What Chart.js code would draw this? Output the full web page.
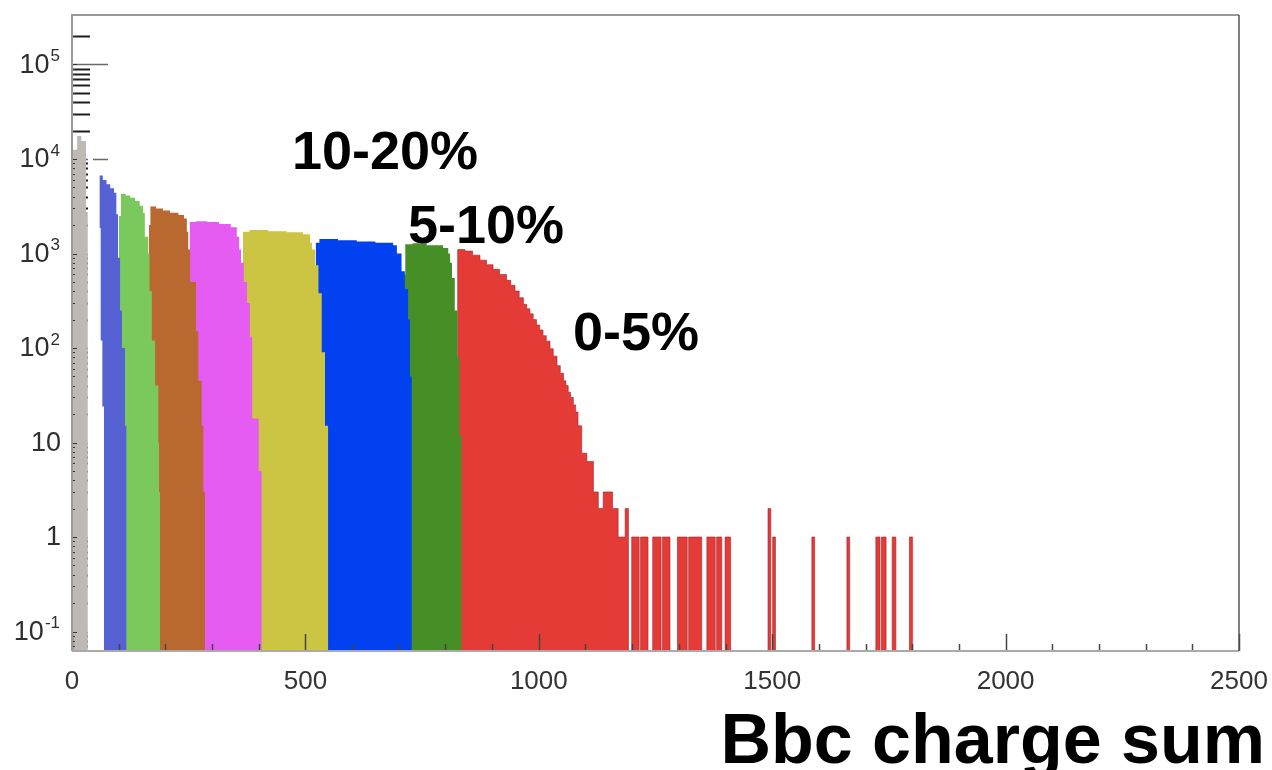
<!DOCTYPE html>
<html>
<head>
<meta charset="utf-8">
<title>Bbc charge sum by centrality class</title>
<script src="https://cdn.jsdelivr.net/npm/chart.js@4.4.1/dist/chart.umd.min.js"></script>
<style>
  html, body { margin: 0; padding: 0; background: #fff; }
  #wrap { width: 1272px; height: 770px; }
</style>
</head>
<body>
<div id="wrap"><canvas id="c" width="1272" height="770"></canvas></div>
<script>
// Bbc charge sum distributions, one histogram per centrality class.
// Each class: bin edges (charge units) and the event count in every bin.
const edges_80_92 = [0, 11, 20, 30, 34];
const counts_80_92 = [12500, 17500, 15500, 2750];

const edges_70_80 = [34, 45, 58.5, 61.5, 65, 68.5];
const counts_70_80 = [12000, 8000, 1860, 120, 24];

const edges_60_70 = [58.5, 66, 74, 82, 90, 95, 98.5, 103, 107, 113.5, 117];
const counts_60_70 = [6700, 6000, 5400, 4900, 4400, 2600, 900, 250, 100, 15];

const edges_50_60 = [100, 105, 115, 125, 135, 145, 152, 156, 163.5, 166, 171, 178, 185, 186.5, 188.5];
const counts_50_60 = [2500, 4300, 4100, 3900, 3600, 3200, 2700, 1500, 1000, 400, 120, 40, 10, 3];

const edges_40_50 = [165, 168, 180, 195, 210, 228, 240, 246, 249, 253, 265.6, 270.6, 277.8, 281.3, 285];
const counts_40_50 = [2000, 3150, 3000, 2850, 2700, 2550, 2350, 1700, 1100, 500, 150, 45, 15, 3];

const edges_30_40 = [252, 265, 290, 315, 340, 353, 358, 362, 368, 375, 381, 386, 400, 406.4];
const counts_30_40 = [2150, 2200, 2150, 2050, 1900, 1500, 1100, 800, 500, 300, 130, 18, 5];

const edges_20_30 = [366, 380, 420, 460, 495, 510, 514, 521, 528, 535, 542, 549];
const counts_20_30 = [1700, 1770, 1720, 1680, 1600, 1300, 1100, 750, 380, 90, 15];

const edges_10_20 = [522, 530, 570, 610, 650, 688, 696, 706, 713, 720, 724, 728];
const counts_10_20 = [1300, 1420, 1380, 1340, 1300, 1220, 1000, 650, 420, 200, 50];

const edges_5_10 = [708, 714, 730, 760, 795, 806, 810, 814, 820, 826, 830, 834.8];
const counts_5_10 = [600, 1250, 1280, 1220, 1140, 1000, 800, 550, 250, 80, 12];

const edges_0_5 = [826, 842, 858, 874, 888, 902, 916, 931, 940, 949, 958, 967, 974, 981, 988, 995,
  1002, 1009, 1016, 1024, 1031, 1039, 1046, 1053, 1058, 1063, 1068, 1074, 1079, 1084, 1092, 1103,
  1117, 1127.5, 1138, 1158, 1170, 1185, 1192, 1199, 1215, 1218, 1234, 1244, 1262, 1265, 1281, 1297,
  1318, 1321, 1349, 1360, 1378, 1381, 1392, 1399, 1411, 1491, 1497, 1501, 1507, 1585, 1591, 1660,
  1666, 1722, 1731, 1734, 1744, 1757, 1765, 1794, 1801];
const counts_0_5 = [1100, 1060, 960, 850, 760, 680, 600, 520, 460, 400, 340, 290, 260, 230, 200, 175,
  155, 135, 118, 98, 82, 65, 54, 45, 40, 34, 30, 25, 21, 15, 7.7, 6.3,
  3, 2, 3, 2, 1, 2, 0, 1, 0, 1, 0, 1, 0, 1, 0, 1,
  0, 1, 0, 1, 0, 1, 0, 1, 0, 2, 0, 1, 0, 1, 0, 1,
  0, 1, 0, 1, 0, 1, 0, 1];

const classNames = ['80-92%', '70-80%', '60-70%', '50-60%', '40-50%', '30-40%', '20-30%', '10-20%', '5-10%', '0-5%'];
const classEdges = [edges_80_92, edges_70_80, edges_60_70, edges_50_60, edges_40_50, edges_30_40, edges_20_30, edges_10_20, edges_5_10, edges_0_5];
const classCounts = [counts_80_92, counts_70_80, counts_60_70, counts_50_60, counts_40_50, counts_30_40, counts_20_30, counts_10_20, counts_5_10, counts_0_5];
const classColors = ['#bfb9b4', '#ffffff', '#5661d3', '#7bc95d', '#b9692f', '#e65bf1', '#ccc443', '#0241ef', '#468f27', '#e53b36'];

// Axis ticks and labels (log axis labels as base + exponent)
const xTickValues = [0, 500, 1000, 1500, 2000, 2500];
const yTickValues = [0.1, 1, 10, 100, 1000, 10000, 100000];
const yTickBases = ['10', '1', '10', '10', '10', '10', '10'];
const yTickExponents = ['-1', '', '', '2', '3', '4', '5'];

// Annotations on the plot
const classTags = [
  { text: '10-20%', x: 292, y: 169 },
  { text: '5-10%', x: 408, y: 243 },
  { text: '0-5%', x: 573, y: 350 }
];
const axisTitle = 'Bbc charge sum';

const X_MIN = 0, X_MAX = 2500;
const Y_MIN = 0.0622, Y_MAX = 334000;
const FLOOR = Y_MIN / 10;            // empty bins fall below the visible range
const FONT = "'Liberation Sans', Arial, Helvetica, sans-serif";

// Turn bin edges + counts into a stepped outline: value held across each bin
function stepPoints(edges, counts) {
  const pts = [{ x: edges[0], y: FLOOR }];
  counts.forEach((c, i) => pts.push({ x: edges[i], y: c > 0 ? c : FLOOR }));
  pts.push({ x: edges[edges.length - 1], y: FLOOR });
  return pts;
}

const datasets = classNames.map((name, i) => ({
  label: name,
  data: stepPoints(classEdges[i], classCounts[i]),
  stepped: true,
  fill: 'start',
  backgroundColor: classColors[i],
  borderColor: name === '0-5%' ? 'rgba(160,35,45,0.6)' : 'transparent',
  borderWidth: name === '0-5%' ? 1 : 0,
  pointRadius: 0,
  tension: 0
}));

function logTickValues() {
  const out = [];
  for (let d = -2; d <= 5; d++) {
    for (let m = 1; m <= 9; m++) {
      const v = m * Math.pow(10, d);
      if (v >= Y_MIN && v <= 2e5) out.push({ v, major: m === 1 });
    }
  }
  return out;
}

// Tick marks drawn inward from the axes, the frame, log-axis labels and text annotations
const frameAndTicks = {
  id: 'frameAndTicks',
  beforeDatasetsDraw(chart) {
    const { ctx, chartArea: a, scales: { y } } = chart;
    ctx.save();
    logTickValues().forEach(t => {
      const py = Math.round(y.getPixelForValue(t.v)) + 0.5;
      ctx.strokeStyle = t.major ? '#6a6a6a' : '#1e1e1e';
      ctx.lineWidth = t.major ? 1.5 : 2;
      ctx.beginPath();
      ctx.moveTo(a.left, py);
      ctx.lineTo(a.left + (t.major ? 36 : 18), py);
      ctx.stroke();
    });
    ctx.restore();
  },
  afterDatasetsDraw(chart) {
    const { ctx, chartArea: a, scales: { x, y } } = chart;
    ctx.save();
    // short ticks along the left axis, over the histograms
    ctx.strokeStyle = '#333';
    ctx.lineWidth = 1;
    logTickValues().forEach(t => {
      const py = Math.round(y.getPixelForValue(t.v)) + 0.5;
      ctx.beginPath();
      ctx.moveTo(a.left, py);
      ctx.lineTo(a.left + (t.major ? 5 : 3), py);
      ctx.stroke();
    });
    // ticks along the bottom axis every 100, longer every 500
    ctx.strokeStyle = '#444';
    ctx.lineWidth = 1.5;
    for (let v = X_MIN; v <= X_MAX; v += 100) {
      const px = Math.round(x.getPixelForValue(v)) + 0.5;
      const len = v % 500 === 0 ? 17 : 7;
      ctx.beginPath();
      ctx.moveTo(px, a.bottom);
      ctx.lineTo(px, a.bottom - len);
      ctx.stroke();
    }
    // frame
    ctx.lineWidth = 2;
    ctx.strokeStyle = '#9a9a9a';
    ctx.beginPath();
    ctx.moveTo(a.left, a.bottom);
    ctx.lineTo(a.left, a.top);
    ctx.lineTo(a.right, a.top);
    ctx.stroke();
    ctx.strokeStyle = '#aaaaaa';
    ctx.beginPath();
    ctx.moveTo(a.left, a.bottom);
    ctx.lineTo(a.right, a.bottom);
    ctx.stroke();
    ctx.strokeStyle = '#555';
    ctx.lineWidth = 1.5;
    ctx.beginPath();
    ctx.moveTo(a.right, a.top);
    ctx.lineTo(a.right, a.bottom);
    ctx.stroke();
    ctx.restore();
  },
  afterDraw(chart) {
    const { ctx, scales: { y } } = chart;
    ctx.save();
    // log-axis labels: base with raised exponent, right-aligned to the axis
    ctx.fillStyle = '#2e2e2e';
    ctx.textBaseline = 'middle';
    const right = 60;
    yTickValues.forEach((v, i) => {
      const py = y.getPixelForValue(v);
      const exp = yTickExponents[i];
      ctx.font = '17px ' + FONT;
      const ew = exp ? ctx.measureText(exp).width : 0;
      if (exp) {
        ctx.textAlign = 'right';
        ctx.fillText(exp, right, py - 8);
      }
      ctx.font = '27px ' + FONT;
      ctx.textAlign = 'right';
      ctx.fillText(yTickBases[i], exp ? right - ew - 1 : right + 1, py + 1);
    });
    // class annotations and axis title
    ctx.fillStyle = '#000';
    ctx.textBaseline = 'alphabetic';
    ctx.textAlign = 'left';
    ctx.font = 'bold 54px ' + FONT;
    classTags.forEach(t => ctx.fillText(t.text, t.x, t.y));
    ctx.textAlign = 'right';
    ctx.font = 'bold 70px ' + FONT;
    ctx.fillText(axisTitle, 1265, 763);
    ctx.restore();
  }
};

new Chart(document.getElementById('c'), {
  type: 'line',
  data: { datasets },
  options: {
    responsive: false,
    animation: false,
    events: [],
    layout: { padding: { top: 15, right: 33, left: 0, bottom: 0 } },
    plugins: { legend: { display: false }, tooltip: { enabled: false } },
    scales: {
      x: {
        type: 'linear',
        min: X_MIN,
        max: X_MAX,
        grid: { display: false },
        border: { display: false },
        afterBuildTicks: (scale) => { scale.ticks = xTickValues.map(v => ({ value: v })); },
        afterFit: (scale) => { scale.height = 119; scale.paddingLeft = 0; scale.paddingRight = 0; },
        ticks: {
          autoSkip: false,
          maxRotation: 0,
          padding: 7,
          color: '#333',
          font: { family: FONT, size: 26 },
          callback: (v) => String(v)
        }
      },
      y: {
        type: 'logarithmic',
        min: Y_MIN,
        max: Y_MAX,
        grid: { display: false },
        border: { display: false },
        afterBuildTicks: (scale) => { scale.ticks = yTickValues.map(v => ({ value: v })); },
        afterFit: (scale) => { scale.width = 72; scale.paddingTop = 0; scale.paddingBottom = 0; },
        ticks: { display: false }
      }
    }
  },
  plugins: [frameAndTicks]
});
</script>
</body>
</html>
